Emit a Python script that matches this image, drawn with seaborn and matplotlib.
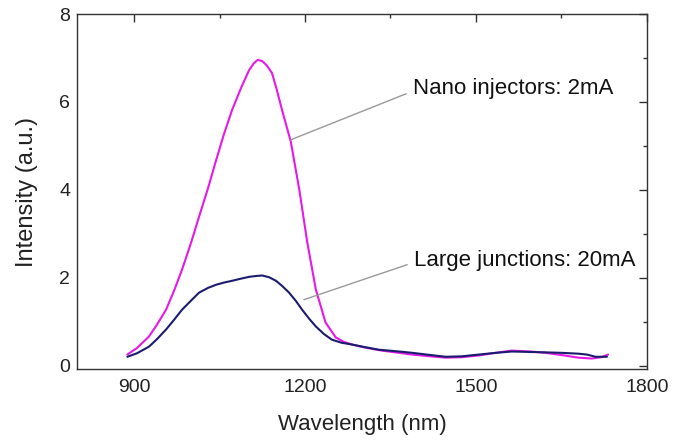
import matplotlib
matplotlib.use("Agg")
import matplotlib.pyplot as plt
import seaborn as sns
import pandas as pd
from matplotlib.ticker import MultipleLocator

# Data
nano_wl = [888, 905, 926, 940, 956, 970, 984, 1000, 1014, 1030, 1044, 1058, 1072, 1088, 1102,
           1110, 1117, 1125, 1133, 1142, 1150, 1160, 1175, 1190, 1204, 1219, 1236, 1254, 1268,
           1282, 1305, 1335, 1365, 1388, 1420, 1447, 1475, 1505, 1535, 1563, 1595, 1622, 1650,
           1680, 1703, 1720, 1732]
nano_int = [0.25, 0.4, 0.66, 0.93, 1.27, 1.7, 2.18, 2.8, 3.39, 4.05, 4.68, 5.28, 5.82, 6.33, 6.73,
            6.88, 6.96, 6.93, 6.83, 6.66, 6.3, 5.8, 5.1, 4.0, 2.8, 1.73, 0.98, 0.64, 0.54,
            0.48, 0.41, 0.34, 0.29, 0.25, 0.21, 0.18, 0.19, 0.23, 0.29, 0.34, 0.32, 0.29, 0.24,
            0.18, 0.16, 0.19, 0.25]

large_wl = [888, 905, 926, 940, 956, 970, 984, 1000, 1014, 1030, 1044, 1058, 1072, 1088, 1102,
            1115, 1125, 1137, 1149, 1160, 1172, 1184, 1195, 1207, 1219, 1233, 1247, 1264, 1282,
            1305, 1330, 1365, 1388, 1420, 1447, 1475, 1505, 1535, 1563, 1595, 1622, 1650, 1680,
            1695, 1710, 1730]
large_int = [0.2, 0.28, 0.43, 0.6, 0.82, 1.04, 1.27, 1.48, 1.66, 1.77, 1.84, 1.89, 1.93, 1.98, 2.02,
             2.04, 2.05, 2.01, 1.93, 1.81, 1.66, 1.47, 1.27, 1.07, 0.89, 0.72, 0.59, 0.52, 0.48,
             0.42, 0.36, 0.32, 0.29, 0.24, 0.2, 0.21, 0.25, 0.29, 0.32, 0.31, 0.3, 0.29, 0.27,
             0.25, 0.2, 0.2]

x_ticks = [900, 1200, 1500, 1800]
y_ticks = [0, 2, 4, 6, 8]

nano_label = "Nano injectors: 2mA"
large_label = "Large junctions: 20mA"

df = pd.concat([
    pd.DataFrame({"Wavelength": nano_wl, "Intensity": nano_int, "series": nano_label}),
    pd.DataFrame({"Wavelength": large_wl, "Intensity": large_int, "series": large_label}),
])

sns.set_style("white")
plt.rcParams['font.family'] = ['Liberation Sans', 'DejaVu Sans']

fig = plt.figure(figsize=(6.83, 4.42), dpi=100)
ax = fig.add_axes([0.113, 0.165, 0.834, 0.803])

sns.lineplot(data=df, x="Wavelength", y="Intensity", hue="series",
             palette={nano_label: "#e619e6", large_label: "#1c1c6e"},
             linewidth=1.5, legend=False, ax=ax, sort=False)

ax.set_xlim(800, 1800)
ax.set_ylim(-0.08, 8)
ax.set_xticks(x_ticks)
ax.set_yticks(y_ticks)
ax.xaxis.set_minor_locator(MultipleLocator(150))
ax.yaxis.set_minor_locator(MultipleLocator(1))
ax.tick_params(which="both", direction="in", top=True, right=True, labelsize=14,
               color="#333333", width=1.0, labelcolor="#222222")
ax.tick_params(which="major", length=6)
ax.tick_params(which="minor", length=3)
ax.tick_params(axis="x", pad=7)
ax.tick_params(axis="y", pad=5)
for s in ax.spines.values():
    s.set_color("#333333")
    s.set_linewidth(1.0)

ax.set_xlabel("Wavelength (nm)", fontsize=16, labelpad=13, color="#222222")
ax.set_ylabel("Intensity (a.u.)", fontsize=17, labelpad=15, color="#222222")

arrow = dict(arrowstyle="-", color="#999999", lw=1.0, shrinkA=3, shrinkB=0, relpos=(0, 0.4))
ax.annotate(nano_label, xy=(1175, 5.14), xytext=(1390, 6.3),
            fontsize=16, va="center", ha="left", color="#111111", arrowprops=arrow)
ax.annotate(large_label, xy=(1198, 1.5), xytext=(1392, 2.4),
            fontsize=16, va="center", ha="left", color="#111111", arrowprops=arrow)

fig.savefig("out.png", dpi=100)
